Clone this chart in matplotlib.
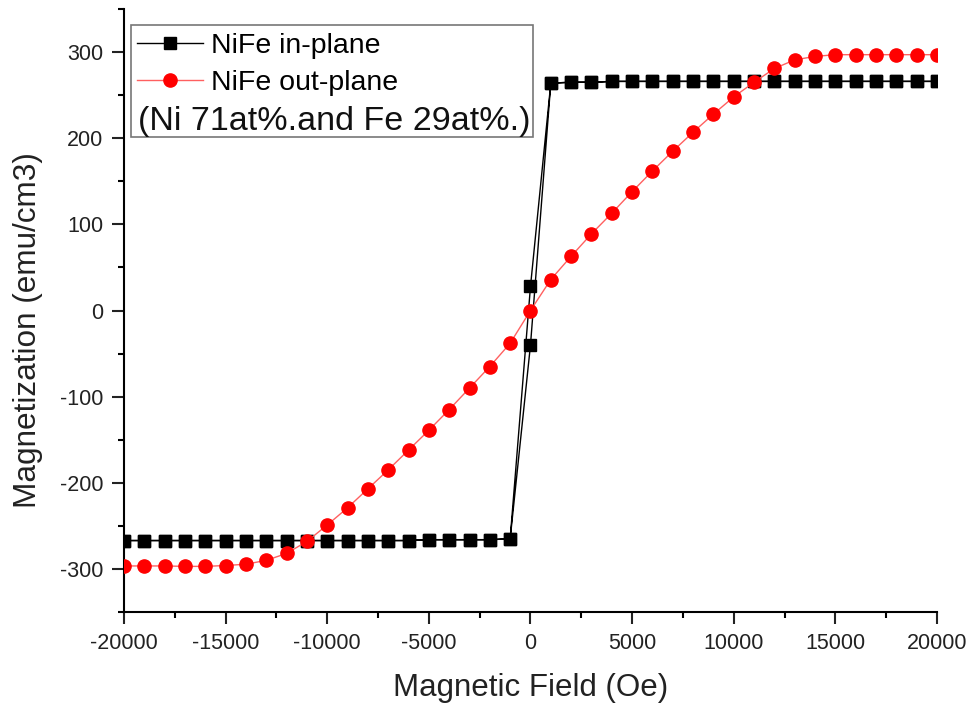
import numpy as np
import matplotlib
matplotlib.use('Agg')
import matplotlib.pyplot as plt
from matplotlib.patches import Rectangle
from matplotlib.ticker import MultipleLocator

plt.rcParams['font.family'] = ['Liberation Sans', 'DejaVu Sans']
plt.rcParams['axes.unicode_minus'] = False

# applied field (Oe)
fields = [-20000, -19000, -18000, -17000, -16000, -15000, -14000, -13000, -12000, -11000,
          -10000, -9000, -8000, -7000, -6000, -5000, -4000, -3000, -2000, -1000,
          0, 1000, 2000, 3000, 4000, 5000, 6000, 7000, 8000, 9000,
          10000, 11000, 12000, 13000, 14000, 15000, 16000, 17000, 18000, 19000, 20000]

# in-plane loop, descending branch (+H -> -H) and ascending branch (-H -> +H)
inplane_down = [-267, -267, -267, -267, -267, -267, -267, -267, -267, -267,
                -267, -267, -267, -267, -267, -266, -266, -266, -266, -265,
                28, 264, 265, 265, 266, 266, 266, 266, 266, 266,
                266, 266, 266, 266, 266, 266, 266, 266, 266, 266, 266]
inplane_up = [-267, -267, -267, -267, -267, -267, -267, -267, -267, -267,
              -267, -267, -267, -267, -267, -266, -266, -266, -266, -265,
              -40, 264, 265, 265, 266, 266, 266, 266, 266, 266,
              266, 266, 266, 266, 266, 266, 266, 266, 266, 266, 266]

# out-of-plane curve
outplane = [-296.5, -296.5, -296.5, -297, -297, -296, -294.5, -290, -282, -268,
            -249, -229, -207, -185, -162, -139, -115, -90, -65, -38,
            0, 36, 63, 89, 113, 138, 162, 185, 207, 228,
            248, 265, 281, 291, 295, 297, 297, 297, 297, 297, 297]

fig = plt.figure(figsize=(9.73, 7.06), dpi=100)
ax = fig.add_axes([0.1274, 0.1331, 0.8356, 0.8541])

# loop: go down from +20000 to -20000, then back up
loop_h = fields[::-1] + fields
loop_m = inplane_down[::-1] + inplane_up
ax.plot(loop_h, loop_m, color='black', lw=1.0, marker='s', ms=8.5,
        mec='black', mfc='black', zorder=2)
ax.plot(fields, outplane, color='#ff6060', lw=1.0, marker='o', ms=9.5,
        mec='red', mfc='red', zorder=3)

ax.set_xlim(-20000, 20000)
ax.set_ylim(-350, 350)
ax.xaxis.set_major_locator(MultipleLocator(5000))
ax.xaxis.set_minor_locator(MultipleLocator(2500))
ax.yaxis.set_major_locator(MultipleLocator(100))
ax.yaxis.set_minor_locator(MultipleLocator(50))

for s in ['top', 'right']:
    ax.spines[s].set_visible(False)
for s in ['left', 'bottom']:
    ax.spines[s].set_linewidth(1.5)
ax.tick_params(which='major', direction='out', length=8.5, width=1.5,
               labelsize=15.5, pad=6.5, colors='#222222')
ax.tick_params(which='minor', direction='out', length=4.5, width=1.5)

ax.set_xlabel('Magnetic Field (Oe)', fontsize=22.5, labelpad=14, color='#222222')
ax.set_ylabel('Magnetization (emu/cm3)', fontsize=22.7, color='#222222')
ax.yaxis.set_label_coords(-0.099, 0.468)

# legend box with extra composition note
ax.add_patch(Rectangle((0.0086, 0.788), 0.494, 0.185, transform=ax.transAxes,
                       facecolor='white', edgecolor='#777777', lw=1.2, zorder=5))
leg = ax.legend(['NiFe in-plane', 'NiFe out-plane'], loc='upper left',
                bbox_to_anchor=(-0.015, 1.002), frameon=False, fontsize=20.5,
                handlelength=2.3, handletextpad=0.3, labelspacing=0.36,
                borderaxespad=0.5)
leg.set_zorder(6)
ax.text(0.0172, 0.813, '(Ni 71at%.and Fe 29at%.)', transform=ax.transAxes,
        fontsize=24.5, color='#111111', zorder=7, va='center', ha='left')

fig.savefig('out.png', dpi=100)
